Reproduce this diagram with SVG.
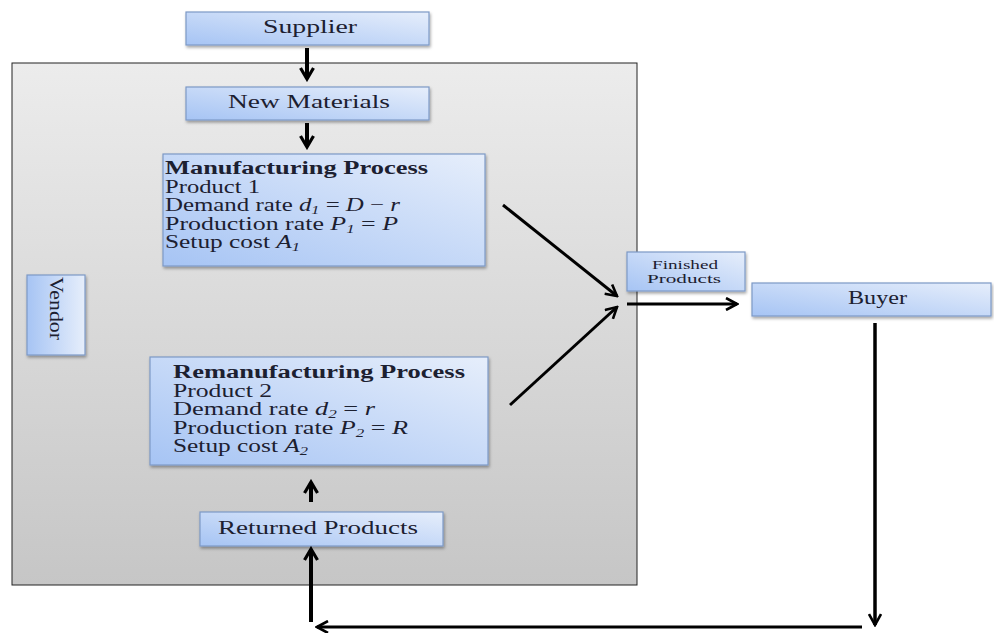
<svg xmlns="http://www.w3.org/2000/svg" width="994" height="633" viewBox="0 0 994 633">
<defs>
<linearGradient id="gBox" x1="0" y1="1" x2="1" y2="0">
<stop offset="0" stop-color="#a6c4f4"/>
<stop offset="1" stop-color="#e6eefb"/>
</linearGradient>
<linearGradient id="gVendorBox" x1="0" y1="0" x2="1" y2="0">
<stop offset="0" stop-color="#a6c4f4"/>
<stop offset="1" stop-color="#e6eefb"/>
</linearGradient>
<linearGradient id="gGray" x1="0" y1="0" x2="0" y2="1">
<stop offset="0" stop-color="#ececec"/>
<stop offset="1" stop-color="#c6c6c6"/>
</linearGradient>
<filter id="sh" x="-10%" y="-10%" width="130%" height="140%">
<feDropShadow dx="1" dy="2" stdDeviation="1.5" flood-color="#000" flood-opacity="0.35"/>
</filter>
<marker id="ah" viewBox="0 0 14 14" refX="12" refY="7" markerWidth="14" markerHeight="14" markerUnits="userSpaceOnUse" orient="auto">
<path d="M1,1 L12,7 L1,13" fill="none" stroke="#000" stroke-width="2.6"/>
</marker>
<marker id="ah2" viewBox="0 0 16 16" refX="13" refY="8" markerWidth="16" markerHeight="16" markerUnits="userSpaceOnUse" orient="auto">
<path d="M2,1.5 L13,8 L2,14.5" fill="none" stroke="#000" stroke-width="3.2"/>
</marker>
</defs>
<style>
.box{fill:url(#gBox);stroke:#7d99c6;stroke-width:1.2;filter:url(#sh)}
.t{font-family:"Liberation Serif","Times New Roman",serif;fill:#1c2030;font-size:18.5px}
.m{font-style:italic}
.s{font-style:italic;font-size:12px}
.f{font-size:12.5px}
.ln{stroke:#000;fill:none}
</style>
<rect width="994" height="633" fill="#fff"/>
<g id="vendor-area">
<rect x="12" y="63" width="625" height="522" fill="url(#gGray)" stroke="#222" stroke-width="1"/>
</g>
<g id="supplier">
<rect class="box" x="186" y="12" width="243" height="33"/>
<text class="t" x="263" y="33" textLength="94" lengthAdjust="spacingAndGlyphs">Supplier</text>
</g>
<g id="new-materials">
<rect class="box" x="186" y="87" width="243" height="33"/>
<text class="t" x="228" y="108" textLength="162" lengthAdjust="spacingAndGlyphs">New Materials</text>
</g>
<g id="manufacturing">
<rect class="box" x="163" y="154" width="322" height="112"/>
<text class="t" x="165" y="174" font-weight="bold" textLength="263" lengthAdjust="spacingAndGlyphs">Manufacturing Process</text>
<text class="t" x="165" y="192.5" textLength="95" lengthAdjust="spacingAndGlyphs">Product 1</text>
<text class="t" x="165" y="211" textLength="235" lengthAdjust="spacingAndGlyphs">Demand rate <tspan class="m">d</tspan><tspan class="s" dy="3">1</tspan><tspan dy="-3"> = </tspan><tspan class="m">D</tspan> − <tspan class="m">r</tspan></text>
<text class="t" x="165" y="229.5" textLength="233" lengthAdjust="spacingAndGlyphs">Production rate <tspan class="m">P</tspan><tspan class="s" dy="3">1</tspan><tspan dy="-3"> = </tspan><tspan class="m">P</tspan></text>
<text class="t" x="165" y="248" textLength="135" lengthAdjust="spacingAndGlyphs">Setup cost <tspan class="m">A</tspan><tspan class="s" dy="3">1</tspan></text>
</g>
<g id="remanufacturing">
<rect class="box" x="150" y="357" width="338" height="108"/>
<text class="t" x="173" y="378" font-weight="bold" textLength="292" lengthAdjust="spacingAndGlyphs">Remanufacturing Process</text>
<text class="t" x="173" y="396.5" textLength="99" lengthAdjust="spacingAndGlyphs">Product 2</text>
<text class="t" x="173" y="415" textLength="202" lengthAdjust="spacingAndGlyphs">Demand rate <tspan class="m">d</tspan><tspan class="s" dy="3">2</tspan><tspan dy="-3"> = </tspan><tspan class="m">r</tspan></text>
<text class="t" x="173" y="433.5" textLength="235" lengthAdjust="spacingAndGlyphs">Production rate <tspan class="m">P</tspan><tspan class="s" dy="3">2</tspan><tspan dy="-3"> = </tspan><tspan class="m">R</tspan></text>
<text class="t" x="173" y="452" textLength="135" lengthAdjust="spacingAndGlyphs">Setup cost <tspan class="m">A</tspan><tspan class="s" dy="3">2</tspan></text>
</g>
<g id="returned-products">
<rect class="box" x="200" y="512" width="243" height="34"/>
<text class="t" x="218" y="534" textLength="200" lengthAdjust="spacingAndGlyphs">Returned Products</text>
</g>
<g id="vendor">
<rect class="box" x="27" y="275" width="58" height="80" style="fill:url(#gVendorBox)"/>
<text class="t" transform="translate(50,277) rotate(90)" textLength="63" lengthAdjust="spacingAndGlyphs">Vendor</text>
</g>
<g id="finished-products">
<rect class="box" x="627" y="252" width="118" height="39"/>
<text class="t f" x="652" y="269" textLength="66" lengthAdjust="spacingAndGlyphs">Finished</text>
<text class="t f" x="647" y="283" textLength="74" lengthAdjust="spacingAndGlyphs">Products</text>
</g>
<g id="buyer">
<rect class="box" x="752" y="283" width="239" height="33"/>
<text class="t" x="848" y="304" textLength="59" lengthAdjust="spacingAndGlyphs">Buyer</text>
</g>
<g id="connectors">
<line class="ln" x1="307" y1="48" x2="307" y2="79" stroke-width="4" marker-end="url(#ah2)"/>
<line class="ln" x1="307" y1="123" x2="307" y2="147" stroke-width="4" marker-end="url(#ah2)"/>
<line class="ln" x1="503" y1="205" x2="617" y2="296" stroke-width="3" marker-end="url(#ah)"/>
<line class="ln" x1="510" y1="405" x2="617" y2="307" stroke-width="3" marker-end="url(#ah)"/>
<line class="ln" x1="627" y1="304" x2="737" y2="304" stroke-width="3" marker-end="url(#ah)"/>
<line class="ln" x1="875" y1="323" x2="875" y2="625" stroke-width="3.5" marker-end="url(#ah)"/>
<line class="ln" x1="862" y1="627" x2="317" y2="627" stroke-width="3" marker-end="url(#ah)"/>
<line class="ln" x1="311" y1="622" x2="311" y2="549" stroke-width="4" marker-end="url(#ah2)"/>
<line class="ln" x1="311" y1="502" x2="311" y2="482" stroke-width="4" marker-end="url(#ah2)"/>
</g>
</svg>
